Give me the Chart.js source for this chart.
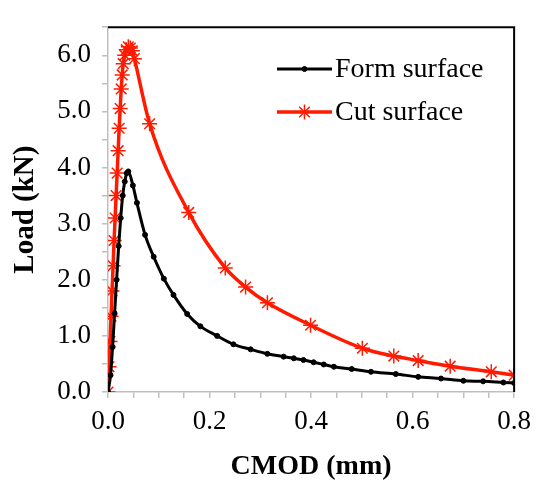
<!DOCTYPE html>
<html>
<head>
<meta charset="utf-8">
<script src="https://cdn.jsdelivr.net/npm/chart.js@4.4.1/dist/chart.umd.min.js"></script>
<style>
  html, body { margin: 0; padding: 0; background: #fff; }
  #wrap { width: 539px; height: 486px; }
</style>
</head>
<body>
<div id="wrap"><canvas id="chart" width="539" height="486"></canvas></div>
<script>
// Form surface (black dots)
const formX = [0, 0.005, 0.009, 0.013, 0.017, 0.021, 0.025, 0.029, 0.033, 0.037, 0.040,
    0.049, 0.057, 0.073, 0.090, 0.110, 0.129, 0.156, 0.182, 0.215, 0.247, 0.281, 0.314,
    0.346, 0.366, 0.385, 0.405, 0.425, 0.445, 0.480, 0.518, 0.567, 0.611, 0.656, 0.700,
    0.739, 0.779, 0.800];
const formY = [0, 0.3, 0.8, 1.4, 2.0, 2.6, 3.1, 3.5, 3.75, 3.9, 3.93,
    3.68, 3.37, 2.8, 2.41, 2.02, 1.73, 1.39, 1.17, 1.0, 0.85, 0.76, 0.68,
    0.63, 0.6, 0.57, 0.53, 0.49, 0.45, 0.41, 0.36, 0.32, 0.27, 0.24, 0.2,
    0.19, 0.17, 0.16];

// Cut surface (red stars)
const cutX = [0, 0.002, 0.004, 0.006, 0.008, 0.010, 0.012, 0.014, 0.016, 0.018, 0.020,
    0.022, 0.024, 0.026, 0.028, 0.030, 0.033, 0.036, 0.040, 0.044, 0.048,
    0.052, 0.082, 0.159, 0.231, 0.271, 0.314, 0.399, 0.501, 0.563, 0.611, 0.674, 0.755, 0.800];
const cutY = [0, 0.45, 0.9, 1.35, 1.8, 2.25, 2.7, 3.1, 3.5, 3.9, 4.3,
    4.7, 5.05, 5.4, 5.65, 5.85, 6.0, 6.1, 6.15, 6.13, 6.08,
    5.94, 4.78, 3.2, 2.21, 1.87, 1.59, 1.19, 0.78, 0.64, 0.56, 0.46, 0.36, 0.30];

const xTicks = [0.0, 0.2, 0.4, 0.6, 0.8];
const yTicks = [0, 1, 2, 3, 4, 5, 6];

const serif = '"Liberation Serif", "Times New Roman", serif';

function toPoints(xs, ys) {
    return xs.map((x, i) => ({ x: x, y: ys[i] }));
}

function isLabelled(v, list) {
    return list.some(t => Math.abs(t - v) < 1e-6);
}

// legend inside the plot + black frame on top and right
const framePlugin = {
    id: 'frameAndLegend',
    afterDraw(chart) {
        const ctx = chart.ctx;
        const a = chart.chartArea;
        ctx.save();
        ctx.strokeStyle = '#000';
        ctx.lineWidth = 2;
        ctx.beginPath();
        ctx.moveTo(a.left, a.top);
        ctx.lineTo(a.right, a.top);
        ctx.lineTo(a.right, a.bottom);
        ctx.stroke();

        const lx = 277, lw = 55;
        const rows = [69, 112];
        ctx.font = '28px ' + serif;
        ctx.textBaseline = 'middle';
        chart.data.datasets.forEach((ds, i) => {
            const y = rows[i];
            ctx.strokeStyle = ds.borderColor;
            ctx.lineWidth = ds.borderWidth;
            ctx.beginPath();
            ctx.moveTo(lx, y);
            ctx.lineTo(lx + lw, y);
            ctx.stroke();
            ctx.fillStyle = ds.pointBackgroundColor;
            ctx.strokeStyle = ds.pointBorderColor;
            ctx.lineWidth = ds.pointBorderWidth;
            Chart.helpers.drawPoint(ctx, {
                pointStyle: ds.pointStyle,
                radius: ds.pointRadius,
                rotation: 0,
                borderWidth: ds.pointBorderWidth
            }, lx + lw / 2, y);
            ctx.fillStyle = '#000';
            ctx.fillText(ds.label, lx + lw + 3, y + 1);
        });
        ctx.restore();
    }
};

new Chart(document.getElementById('chart'), {
    type: 'line',
    data: {
        datasets: [{
            label: 'Form surface',
            data: toPoints(formX, formY),
            borderColor: '#000',
            borderWidth: 3,
            pointStyle: 'circle',
            pointRadius: 2.5,
            pointBackgroundColor: '#000',
            pointBorderColor: '#000',
            pointBorderWidth: 1,
            cubicInterpolationMode: 'monotone'
        }, {
            label: 'Cut surface',
            data: toPoints(cutX, cutY),
            borderColor: '#ff1a00',
            borderWidth: 3.5,
            pointStyle: 'star',
            pointRadius: 7.5,
            pointBackgroundColor: '#ff1a00',
            pointBorderColor: '#ff1a00',
            pointBorderWidth: 1.5,
            cubicInterpolationMode: 'monotone'
        }]
    },
    options: {
        responsive: false,
        animation: false,
        layout: { padding: { left: 0, right: 24, top: 9, bottom: 0 } },
        plugins: {
            legend: { display: false },
            tooltip: { enabled: false }
        },
        scales: {
            x: {
                type: 'linear',
                min: 0,
                max: 0.8,
                afterFit: s => { s.height = 94; },
                border: { color: '#bfbfbf', width: 1.5 },
                grid: { drawOnChartArea: false, drawTicks: true, tickLength: 6, color: '#bfbfbf', lineWidth: 1.5 },
                ticks: {
                    stepSize: 0.05,
                    autoSkip: false,
                    maxRotation: 0,
                    padding: 8,
                    color: '#000',
                    font: { family: serif, size: 27 },
                    callback: v => isLabelled(v, xTicks) ? v.toFixed(1) : ''
                },
                title: {
                    display: true,
                    text: 'CMOD (mm)',
                    color: '#000',
                    font: { family: serif, size: 28, weight: 'bold' },
                    padding: { top: 0, bottom: 2 }
                }
            },
            y: {
                type: 'linear',
                min: 0,
                max: 6.5,
                afterFit: s => { s.width = 108; },
                border: { color: '#bfbfbf', width: 1.5 },
                grid: { drawOnChartArea: false, drawTicks: true, tickLength: 6, color: '#bfbfbf', lineWidth: 1.5 },
                ticks: {
                    stepSize: 0.5,
                    autoSkip: false,
                    padding: 11,
                    color: '#000',
                    font: { family: serif, size: 27 },
                    callback: v => isLabelled(v, yTicks) ? v.toFixed(1) : ''
                },
                title: {
                    display: true,
                    text: 'Load (kN)',
                    color: '#000',
                    font: { family: serif, size: 29, weight: 'bold' },
                    padding: { top: 8, bottom: 0 }
                }
            }
        }
    },
    plugins: [framePlugin]
});
</script>
</body>
</html>
